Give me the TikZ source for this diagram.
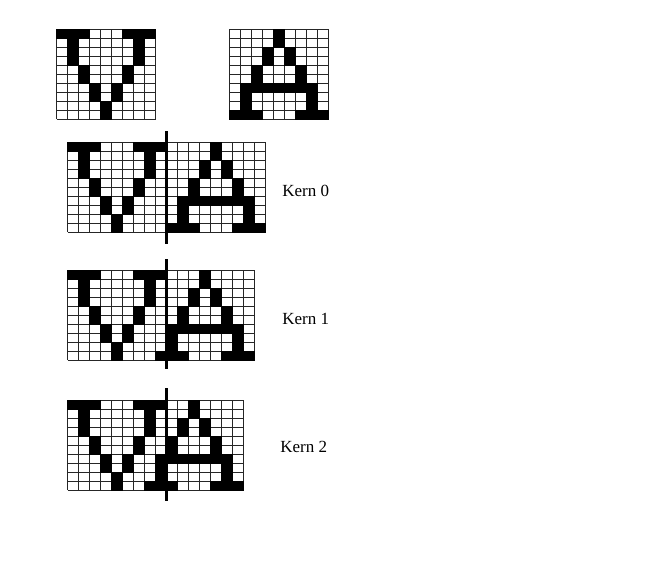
\documentclass[tikz,border=0pt]{standalone}
\usepackage{fontspec}
\setmainfont{Liberation Serif}
\newcommand\Vcells{1/1,2/1,3/1,7/1,8/1,9/1,2/2,8/2,2/3,8/3,2/4,8/4,3/5,7/5,3/6,7/6,4/7,6/7,4/8,6/8,5/9,5/10}
\newcommand\Acells{5/1,5/2,4/3,6/3,4/4,6/4,3/5,7/5,3/6,7/6,2/7,3/7,4/7,5/7,6/7,7/7,8/7,2/8,8/8,2/9,8/9,1/10,2/10,3/10,7/10,8/10,9/10}
\newcommand\glyphcells[3]{%
  \foreach \c/\r in #1 {\fill[cellfill] ({#2+11*\c-11},{#3+9*\r-9}) rectangle ++(11,9);}}
\newcommand\gridbox[3]{%
  \foreach \i in {0,...,#3} {\draw[cellgrid] ({#1+11*\i},#2) -- ++(0,90);}
  \foreach \j in {0,...,10} {\draw[cellgrid] (#1,{#2+9*\j}) -- ++({11*#3},0);}}
\begin{document}
\begin{tikzpicture}[x=0.75pt,y=-0.75pt,
  cellgrid/.style={black!85,line width=0.75pt},
  cellfill/.style={fill=black,draw=black,line width=0.4pt},
  kernline/.style={black,line width=2.25pt},
  kernlabel/.style={anchor=base west,inner sep=0pt,font=\fontsize{12.75}{15}\selectfont}]
\useasboundingbox (0,0) rectangle (649,561);
% top glyphs
\gridbox{56.5}{29}{9}
\glyphcells{\Vcells}{56.5}{29}
\gridbox{229}{29}{9}
\glyphcells{\Acells}{229}{29}
% Kern 0
\gridbox{67.5}{142}{18}
\glyphcells{\Vcells}{67.5}{142}
\glyphcells{\Acells}{166.5}{142}
\coordinate (k0t) at (166.5,131);
\coordinate (k0b) at (166.5,244);
\draw[kernline] (k0t) -- (k0b);
\node[kernlabel] (kern0) at (282,196) {Kern 0};
% Kern 1
\gridbox{67.5}{270}{17}
\glyphcells{\Vcells}{67.5}{270}
\glyphcells{\Acells}{155.5}{270}
\coordinate (k1t) at (166.5,259);
\coordinate (k1b) at (166.5,369);
\draw[kernline] (k1t) -- (k1b);
\node[kernlabel] (kern1) at (282,324) {Kern 1};
% Kern 2
\gridbox{67.5}{400}{16}
\glyphcells{\Vcells}{67.5}{400}
\glyphcells{\Acells}{144.5}{400}
\coordinate (k2t) at (166.5,388);
\coordinate (k2b) at (166.5,501);
\draw[kernline] (k2t) -- (k2b);
\node[kernlabel] (kern2) at (280,452) {Kern 2};
\end{tikzpicture}
\end{document}
